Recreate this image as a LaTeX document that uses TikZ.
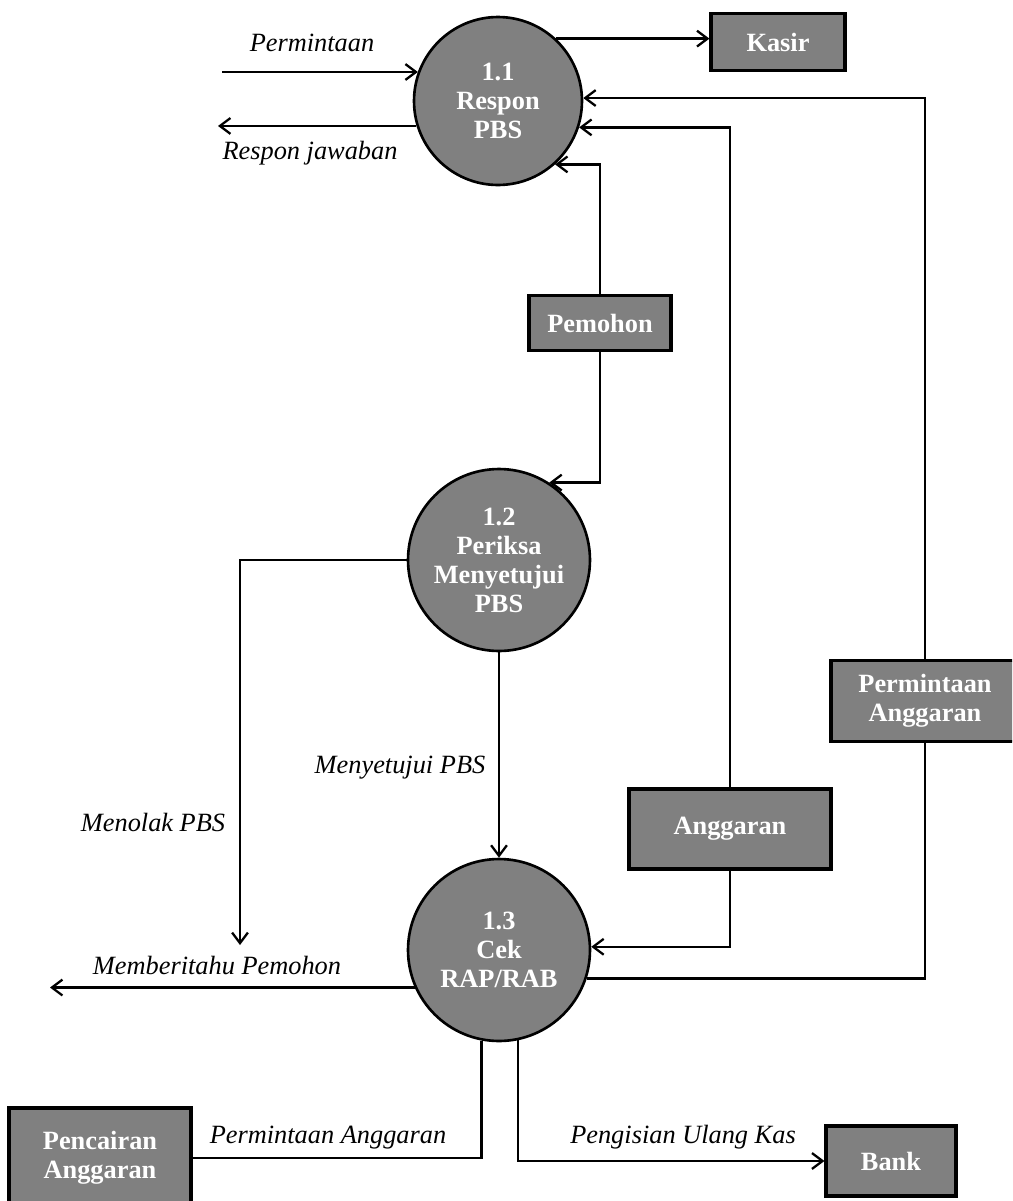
\documentclass[tikz,border=0pt]{standalone}
\usepackage{fontspec}
\setmainfont{Liberation Serif}
\usepackage{xcolor}
\usetikzlibrary{arrows.meta, calc}
\definecolor{procfill}{HTML}{808080}

\begin{document}
\begin{tikzpicture}[
    x=0.02cm, y=-0.02cm,
    >={Straight Barb[length=6pt, width=9pt]},
    flow/.style={line width=1.3pt},
    proc/.style={circle, draw, line width=1.5pt, fill=procfill, text=white, minimum size=#1, inner sep=0pt, align=center, font=\fontsize{15}{16.5}\selectfont\bfseries},
    ent/.style={draw, line width=1.8pt, fill=procfill, text=white, inner sep=0pt, align=center, font=\fontsize{15}{16.5}\selectfont\bfseries},
    lbl/.style={font=\fontsize{15}{16.5}\selectfont\itshape},
]
    \clip (0,0) rectangle (1012,1201);

    % Processes
    \node[proc=3.36cm] (p11) at (498,101) {1.1\\Respon\\PBS};
    \node[proc=3.64cm] (p12) at (499,560) {1.2\\Periksa\\Menyetujui\\PBS};
    \node[proc=3.64cm] (p13) at (499,950) {1.3\\Cek\\RAP/RAB};

    % External entities
    \node[ent, minimum width=2.68cm, minimum height=1.14cm] (kasir) at (778,42) {Kasir};
    \node[ent, minimum width=2.84cm, minimum height=1.1cm] (pemohon) at (600,323) {Pemohon};
    \node[ent, minimum width=4.04cm, minimum height=1.6cm] (anggaran) at (730,829) {Anggaran};
    \node[ent, minimum width=3.76cm, minimum height=1.62cm] (pa) at (925,701) {Permintaan\\Anggaran};
    \node[ent, minimum width=3.64cm, minimum height=2.0cm] (cair) at (100,1158) {Pencairan\\Anggaran};
    \node[ent, minimum width=2.6cm, minimum height=1.4cm] (bank) at (891,1161) {Bank};

    \coordinate (req) at (222,72);
    \coordinate (resp) at (218,126);
    \coordinate (reject) at (240,945);
    \coordinate (notify) at (50,987);

    % Flows
    \draw[flow, ->] (req) -- (req -| p11.160);
    \draw[flow, ->] (p11.197) -- (p11.197 -| resp);
    \draw[flow, ->] (p11.47) -- (p11.47 -| kasir.west);
    \draw[flow, ->] (pa.north) |- (p11.2);
    \draw[flow, ->] (anggaran.north) |- (p11.-18);
    \draw[flow, ->] (pemohon.north) |- (p11.-48);
    \draw[flow, ->] (pemohon.south) |- (p12.57);
    \draw[flow, ->] (p12.west) -| (reject);
    \draw[flow, ->] (p12.south) -- (p13.north);
    \draw[flow, ->] (anggaran.south) |- (p13.2);
    \draw[flow] (pa.south) |- (p13.-18);
    \draw[flow, ->] (p13.204) -- (p13.204 -| notify);
    \draw[flow] (p13.259) |- (cair.east);
    \draw[flow, ->] (p13.282) |- (bank.west);

    % Flow labels
    \node[lbl] (lreq) at (312,43) {Permintaan};
    \node[lbl] (lresp) at (310,153) {Respon jawaban};
    \node[lbl] (lreject) at (153,822) {Menolak PBS};
    \node[lbl] (lapprove) at (400,768) {Menyetujui PBS};
    \node[lbl] (lnotify) at (217,965) {Memberitahu Pemohon};
    \node[lbl] (lcair) at (328,1138) {Permintaan Anggaran};
    \node[lbl] (lrefill) at (683,1137) {Pengisian Ulang Kas};
\end{tikzpicture}
\end{document}
